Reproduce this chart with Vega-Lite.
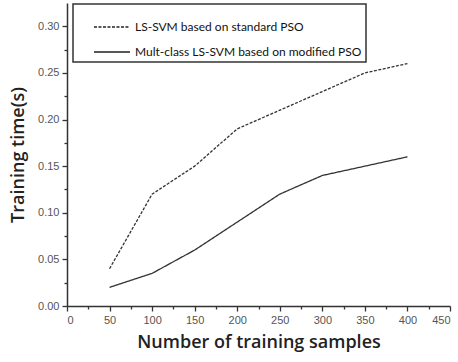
{
  "$schema": "https://vega.github.io/schema/vega-lite/v6.json",
  "width": 383,
  "height": 303,
  "autosize": {"type": "none"},
  "padding": {"left": 67, "top": 3, "right": 8, "bottom": 53},
  "background": "white",
  "config": {
    "view": {"stroke": null},
    "legend": {"strokeWidth": 1.5},
    "axis": {
      "grid": false,
      "domainColor": "#333",
      "domainWidth": 1.5,
      "tickColor": "#333",
      "tickWidth": 1.3,
      "labelFont": "Liberation Sans",
      "labelFontSize": 11,
      "labelColor": "#555",
      "titleFont": "Open Sans",
      "titleFontWeight": 600,
      "titleFontSize": 18,
      "titleColor": "#222"
    }
  },
  "data": {
    "values": [
      {"n": 50, "t": 0.04, "s": "LS-SVM based on standard PSO"},
      {"n": 100, "t": 0.12, "s": "LS-SVM based on standard PSO"},
      {"n": 150, "t": 0.15, "s": "LS-SVM based on standard PSO"},
      {"n": 200, "t": 0.19, "s": "LS-SVM based on standard PSO"},
      {"n": 250, "t": 0.21, "s": "LS-SVM based on standard PSO"},
      {"n": 300, "t": 0.23, "s": "LS-SVM based on standard PSO"},
      {"n": 350, "t": 0.25, "s": "LS-SVM based on standard PSO"},
      {"n": 400, "t": 0.26, "s": "LS-SVM based on standard PSO"},
      {"n": 50, "t": 0.02, "s": "Mult-class LS-SVM based on modified PSO"},
      {"n": 100, "t": 0.035, "s": "Mult-class LS-SVM based on modified PSO"},
      {"n": 150, "t": 0.06, "s": "Mult-class LS-SVM based on modified PSO"},
      {"n": 200, "t": 0.09, "s": "Mult-class LS-SVM based on modified PSO"},
      {"n": 250, "t": 0.12, "s": "Mult-class LS-SVM based on modified PSO"},
      {"n": 300, "t": 0.14, "s": "Mult-class LS-SVM based on modified PSO"},
      {"n": 350, "t": 0.15, "s": "Mult-class LS-SVM based on modified PSO"},
      {"n": 400, "t": 0.16, "s": "Mult-class LS-SVM based on modified PSO"}
    ]
  },
  "mark": {"type": "line", "color": "#333", "strokeWidth": 1.3},
  "encoding": {
    "x": {
      "field": "n", "type": "quantitative",
      "scale": {"domain": [0, 450], "nice": false},
      "axis": {
        "values": [0, 25, 50, 75, 100, 125, 150, 175, 200, 225, 250, 275, 300, 325, 350, 375, 400, 425, 450],
        "labelExpr": "datum.value % 50 === 0 ? datum.label : ''",
        "tickSize": {"condition": {"test": "datum.value % 50 === 0", "value": 5}, "value": 3},
        "labelPadding": 3, "labelOverlap": false, "title": "Number of training samples", "titlePadding": 8
      }
    },
    "y": {
      "field": "t", "type": "quantitative",
      "scale": {"domain": [0, 0.325], "nice": false},
      "axis": {
        "values": [0, 0.025, 0.05, 0.075, 0.1, 0.125, 0.15, 0.175, 0.2, 0.225, 0.25, 0.275, 0.3],
        "labelExpr": "round(datum.value * 40) % 2 === 0 ? format(datum.value, '.2f') : ''",
        "tickSize": {"condition": {"test": "round(datum.value * 40) % 2 === 0", "value": 5}, "value": 3},
        "labelPadding": 3, "labelOverlap": false, "title": "Training time(s)", "titlePadding": 10
      }
    },
    "strokeDash": {
      "field": "s", "type": "nominal",
      "scale": {"domain": ["LS-SVM based on standard PSO", "Mult-class LS-SVM based on modified PSO"], "range": [[3, 1.5], [1, 0]]},
      "legend": {
        "orient": "none", "legendX": 6, "legendY": 1, "title": null,
        "symbolType": "stroke", "symbolSize": 1300, "symbolStrokeColor": "#222", "symbolStrokeWidth": 1.3,
        "symbolOffset": 16,
        "labelFont": "Lato", "labelFontSize": 12, "labelColor": "#111", "labelLimit": 400, "labelOffset": 4,
        "fillColor": "white", "strokeColor": "#333",
        "padding": 4, "rowPadding": -3, "offset": 0
      }
    }
  }
}
